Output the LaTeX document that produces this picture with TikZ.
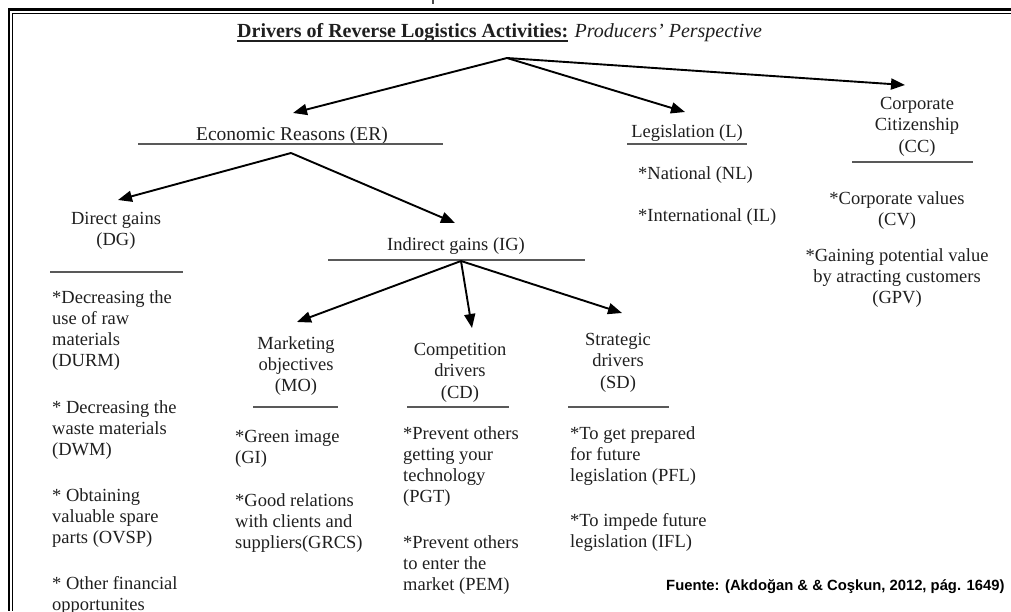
\documentclass[tikz,border=0pt]{standalone}
\usepackage{fontspec}
\setmainfont{Liberation Serif}
\newfontfamily\srcfont{Liberation Sans}
\usetikzlibrary{arrows.meta}

\begin{document}
\begin{tikzpicture}[x=1pt,y=-1pt,
  txt/.style={inner sep=0pt, text=black!88, font=\fontsize{18.5}{21.3}\selectfont},
  head/.style={txt, align=center, anchor=north},
  item/.style={txt, align=left, anchor=north west},
  single/.style={txt, anchor=base},
  rule/.style={draw=black!65, line width=1.5pt},
  arr/.style={draw=black, line width=1.9pt, -{Triangle[length=14pt,width=11pt]}},
]
\useasboundingbox (0,0) rectangle (1011,611);

% page frame (double rule along the top and the left)
\draw[line width=2.5pt] (1011,9.5) -- (9,9.5) -- (9,611);
\draw[line width=1pt] (1011,13) -- (12.5,13) -- (12.5,611);
\draw[line width=1.5pt, black!70] (433,0) -- (433,4);

% heading
\node[anchor=base west, inner sep=0pt, text=black!88,
      font=\fontsize{20}{24}\selectfont\bfseries] (title) at (237,37)
      {Drivers of Reverse Logistics Activities:};
\node[anchor=base west, inner sep=0pt, text=black!88,
      font=\fontsize{20}{24}\selectfont\itshape] (subtitle)
      at ([xshift=6pt]title.base east) {Producers’ Perspective};
\draw[line width=1.4pt, black!88] ([yshift=-4pt]title.base west) -- ([yshift=-4pt]title.base east);

% branching points
\coordinate (root) at (507,58);
\coordinate (erFork) at (291,153);
\coordinate (igFork) at (461,261);

% arrow tips
\coordinate (erTip) at (293,113);
\coordinate (lTip) at (685,112);
\coordinate (ccTip) at (905,85);
\coordinate (dgTip) at (118,200);
\coordinate (igTip) at (455,223);
\coordinate (moTip) at (297,322);
\coordinate (cdTip) at (472,328);
\coordinate (sdTip) at (622,313);

% first level
\node[single, font=\fontsize{19.5}{22}\selectfont] (er) at (292,140) {Economic Reasons (ER)};
\draw[rule] (138,144) coordinate (erL) -- (443,144) coordinate (erR);

\node[single] (leg) at (687,137) {Legislation (L)};
\draw[rule] (627,144) coordinate (legL) -- (747,144) coordinate (legR);
\node[txt, anchor=base west] (nl) at (638,179) {*National (NL)};
\node[txt, anchor=base west] (il) at (638,221) {*International (IL)};

\node[head] (cc) at (917,97) {Corporate\\Citizenship\\(CC)};
\draw[rule] (852,162) coordinate (ccL) -- (973,162) coordinate (ccR);
\node[head] (cv) at (897,191) {*Corporate values\\(CV)};
\node[head] (gpv) at (897,248) {*Gaining potential value\\by atracting customers\\(GPV)};

% economic reasons split
\node[head] (dg) at (116,212) {Direct gains\\(DG)};
\draw[rule] (50,272) coordinate (dgL) -- (183,272) coordinate (dgR);
\node[item] (durm) at (52,290) {*Decreasing the\\use of raw\\materials\\(DURM)};
\node[item] (dwm) at (52,400) {* Decreasing the\\waste materials\\(DWM)};
\node[item] (ovsp) at (52,488) {* Obtaining\\valuable spare\\parts (OVSP)};
\node[item] (ofo) at (52,576) {* Other financial\\opportunites};

\node[single] (ig) at (456,250) {Indirect gains (IG)};
\draw[rule] (328,260) coordinate (igL) -- (585,260) coordinate (igR);

% indirect gains split
\node[head] (mo) at (296,336) {Marketing\\objectives\\(MO)};
\draw[rule] (253,407) coordinate (moL) -- (338,407) coordinate (moR);
\node[item] (gi) at (235,430) {*Green image\\(GI)};
\node[item] (grcs) at (235,493) {*Good relations\\with clients and\\suppliers(GRCS)};

\node[head] (cd) at (460,343) {Competition\\drivers\\(CD)};
\draw[rule] (407,407) coordinate (cdL) -- (509,407) coordinate (cdR);
\node[item] (pgt) at (403,426) {*Prevent others\\getting your\\technology\\(PGT)};
\node[item] (pem) at (403,535) {*Prevent others\\to enter the\\market (PEM)};

\node[head] (sd) at (618,333) {Strategic\\drivers\\(SD)};
\draw[rule] (568,407) coordinate (sdL) -- (669,407) coordinate (sdR);
\node[item] (pfl) at (570,426) {*To get prepared\\for future\\legislation (PFL)};
\node[item] (ifl) at (570,513) {*To impede future\\legislation (IFL)};

% arrows
\draw[arr] (root) -- (erTip);
\draw[arr] (root) -- (lTip);
\draw[arr] (root) -- (ccTip);
\draw[arr] (erFork) -- (dgTip);
\draw[arr] (erFork) -- (igTip);
\draw[arr] (igFork) -- (moTip);
\draw[arr] (igFork) -- (cdTip);
\draw[arr] (igFork) -- (sdTip);

% source line
\node[anchor=base west, inner sep=0pt, text=black,
      font=\srcfont\bfseries\fontsize{14.8}{17}\selectfont] (src) at (666,590)
      {Fuente: (Akdoğan \& \& Coşkun, 2012, pág. 1649)};
\end{tikzpicture}
\end{document}
